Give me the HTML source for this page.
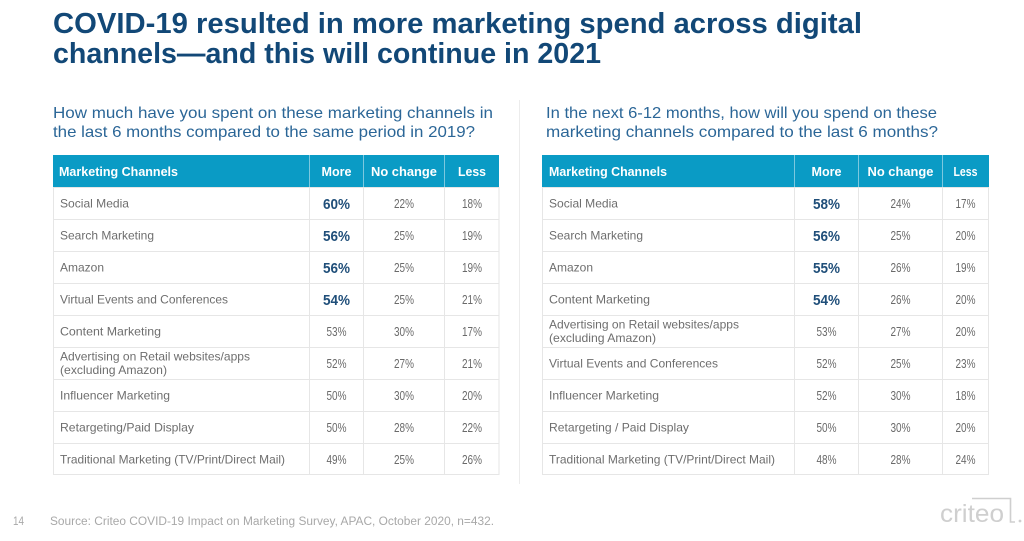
<!DOCTYPE html>
<html><head><meta charset="utf-8"><style>
html,body{margin:0;padding:0;background:#fff;}
svg{display:block;}
text{font-family:"Liberation Sans",sans-serif;}
.t{fill:#124877;font-weight:bold;font-size:29px;}
.s{fill:#2b6697;font-size:16px;}
.h{fill:#fff;font-weight:bold;font-size:13px;}
.l{fill:#6e6e6e;font-size:12px;}
.n{fill:#6a6a6a;font-size:12.5px;text-anchor:middle;}
.b{fill:#1f4e79;font-weight:bold;font-size:14.5px;text-anchor:middle;}
.hc{text-anchor:middle;}
.f{fill:#a8a8a8;font-size:11.5px;}
</style></head><body>
<svg width="1024" height="541" viewBox="0 0 1024 541" xmlns="http://www.w3.org/2000/svg">
<rect width="1024" height="541" fill="#fff"/>
<!-- Title -->
<text class="t" x="53" y="33" textLength="809" lengthAdjust="spacingAndGlyphs">COVID-19 resulted in more marketing spend across digital</text>
<text class="t" x="53" y="63" textLength="548" lengthAdjust="spacingAndGlyphs">channels—and this will continue in 2021</text>

<!-- Subtitles -->
<text class="s" x="53" y="118" textLength="440" lengthAdjust="spacingAndGlyphs">How much have you spent on these marketing channels in</text>
<text class="s" x="53" y="137" textLength="422" lengthAdjust="spacingAndGlyphs">the last 6 months compared to the same period in 2019?</text>
<text class="s" x="546" y="118" textLength="391" lengthAdjust="spacingAndGlyphs">In the next 6-12 months, how will you spend on these</text>
<text class="s" x="546" y="137" textLength="392" lengthAdjust="spacingAndGlyphs">marketing channels compared to the last 6 months?</text>

<!-- divider -->
<line x1="519.5" y1="100" x2="519.5" y2="484" stroke="#ececec" stroke-width="1"/>

<!-- LEFT TABLE -->
<g>
<rect x="53" y="155" width="446" height="32" fill="#0a9bc5"/>
<g stroke="#e6e6e6" stroke-width="1" fill="none">
<rect x="53.5" y="187.5" width="445.5" height="287"/>
<line x1="53" y1="219.5" x2="499" y2="219.5"/>
<line x1="53" y1="251.5" x2="499" y2="251.5"/>
<line x1="53" y1="283.5" x2="499" y2="283.5"/>
<line x1="53" y1="315.5" x2="499" y2="315.5"/>
<line x1="53" y1="347.5" x2="499" y2="347.5"/>
<line x1="53" y1="379.5" x2="499" y2="379.5"/>
<line x1="53" y1="411.5" x2="499" y2="411.5"/>
<line x1="53" y1="443.5" x2="499" y2="443.5"/>
<line x1="309.5" y1="187" x2="309.5" y2="475"/>
<line x1="363.5" y1="187" x2="363.5" y2="475"/>
<line x1="444.5" y1="187" x2="444.5" y2="475"/>
</g>
<g stroke="#7cc8df" stroke-width="1">
<line x1="309.5" y1="155" x2="309.5" y2="187"/>
<line x1="363.5" y1="155" x2="363.5" y2="187"/>
<line x1="444.5" y1="155" x2="444.5" y2="187"/>
</g>
<text class="h" x="59" y="176" textLength="119" lengthAdjust="spacingAndGlyphs">Marketing Channels</text>
<text class="h hc" x="336.5" y="176" textLength="30" lengthAdjust="spacingAndGlyphs">More</text>
<text class="h hc" x="404" y="176" textLength="66" lengthAdjust="spacingAndGlyphs">No change</text>
<text class="h hc" x="472" y="176" textLength="28" lengthAdjust="spacingAndGlyphs">Less</text>

<text class="l" x="60" y="207.5" textLength="69" lengthAdjust="spacingAndGlyphs">Social Media</text>
<text class="b" x="336.5" y="209" textLength="27" lengthAdjust="spacingAndGlyphs">60%</text>
<text class="n" x="404" y="208" textLength="20" lengthAdjust="spacingAndGlyphs">22%</text>
<text class="n" x="472" y="208" textLength="20" lengthAdjust="spacingAndGlyphs">18%</text>

<text class="l" x="60" y="239.5" textLength="94" lengthAdjust="spacingAndGlyphs">Search Marketing</text>
<text class="b" x="336.5" y="241" textLength="27" lengthAdjust="spacingAndGlyphs">56%</text>
<text class="n" x="404" y="240" textLength="20" lengthAdjust="spacingAndGlyphs">25%</text>
<text class="n" x="472" y="240" textLength="20" lengthAdjust="spacingAndGlyphs">19%</text>

<text class="l" x="60" y="271.5" textLength="44" lengthAdjust="spacingAndGlyphs">Amazon</text>
<text class="b" x="336.5" y="273" textLength="27" lengthAdjust="spacingAndGlyphs">56%</text>
<text class="n" x="404" y="272" textLength="20" lengthAdjust="spacingAndGlyphs">25%</text>
<text class="n" x="472" y="272" textLength="20" lengthAdjust="spacingAndGlyphs">19%</text>

<text class="l" x="60" y="303.5" textLength="168" lengthAdjust="spacingAndGlyphs">Virtual Events and Conferences</text>
<text class="b" x="336.5" y="305" textLength="27" lengthAdjust="spacingAndGlyphs">54%</text>
<text class="n" x="404" y="304" textLength="20" lengthAdjust="spacingAndGlyphs">25%</text>
<text class="n" x="472" y="304" textLength="20" lengthAdjust="spacingAndGlyphs">21%</text>

<text class="l" x="60" y="335.5" textLength="101" lengthAdjust="spacingAndGlyphs">Content Marketing</text>
<text class="n" x="336.5" y="336" textLength="20" lengthAdjust="spacingAndGlyphs">53%</text>
<text class="n" x="404" y="336" textLength="20" lengthAdjust="spacingAndGlyphs">30%</text>
<text class="n" x="472" y="336" textLength="20" lengthAdjust="spacingAndGlyphs">17%</text>

<text class="l" x="60" y="360.5" textLength="190" lengthAdjust="spacingAndGlyphs">Advertising on Retail websites/apps</text>
<text class="l" x="60" y="374" textLength="107" lengthAdjust="spacingAndGlyphs">(excluding Amazon)</text>
<text class="n" x="336.5" y="368" textLength="20" lengthAdjust="spacingAndGlyphs">52%</text>
<text class="n" x="404" y="368" textLength="20" lengthAdjust="spacingAndGlyphs">27%</text>
<text class="n" x="472" y="368" textLength="20" lengthAdjust="spacingAndGlyphs">21%</text>

<text class="l" x="60" y="399.5" textLength="110" lengthAdjust="spacingAndGlyphs">Influencer Marketing</text>
<text class="n" x="336.5" y="400" textLength="20" lengthAdjust="spacingAndGlyphs">50%</text>
<text class="n" x="404" y="400" textLength="20" lengthAdjust="spacingAndGlyphs">30%</text>
<text class="n" x="472" y="400" textLength="20" lengthAdjust="spacingAndGlyphs">20%</text>

<text class="l" x="60" y="431.5" textLength="134" lengthAdjust="spacingAndGlyphs">Retargeting/Paid Display</text>
<text class="n" x="336.5" y="432" textLength="20" lengthAdjust="spacingAndGlyphs">50%</text>
<text class="n" x="404" y="432" textLength="20" lengthAdjust="spacingAndGlyphs">28%</text>
<text class="n" x="472" y="432" textLength="20" lengthAdjust="spacingAndGlyphs">22%</text>

<text class="l" x="60" y="463.5" textLength="225" lengthAdjust="spacingAndGlyphs">Traditional Marketing (TV/Print/Direct Mail)</text>
<text class="n" x="336.5" y="464" textLength="20" lengthAdjust="spacingAndGlyphs">49%</text>
<text class="n" x="404" y="464" textLength="20" lengthAdjust="spacingAndGlyphs">25%</text>
<text class="n" x="472" y="464" textLength="20" lengthAdjust="spacingAndGlyphs">26%</text>
</g>

<!-- RIGHT TABLE -->
<g>
<rect x="542" y="155" width="447" height="32" fill="#0a9bc5"/>
<g stroke="#e6e6e6" stroke-width="1" fill="none">
<rect x="542.5" y="187.5" width="446" height="287"/>
<line x1="542" y1="219.5" x2="989" y2="219.5"/>
<line x1="542" y1="251.5" x2="989" y2="251.5"/>
<line x1="542" y1="283.5" x2="989" y2="283.5"/>
<line x1="542" y1="315.5" x2="989" y2="315.5"/>
<line x1="542" y1="347.5" x2="989" y2="347.5"/>
<line x1="542" y1="379.5" x2="989" y2="379.5"/>
<line x1="542" y1="411.5" x2="989" y2="411.5"/>
<line x1="542" y1="443.5" x2="989" y2="443.5"/>
<line x1="794.5" y1="187" x2="794.5" y2="475"/>
<line x1="858.5" y1="187" x2="858.5" y2="475"/>
<line x1="942.5" y1="187" x2="942.5" y2="475"/>
</g>
<g stroke="#7cc8df" stroke-width="1">
<line x1="794.5" y1="155" x2="794.5" y2="187"/>
<line x1="858.5" y1="155" x2="858.5" y2="187"/>
<line x1="942.5" y1="155" x2="942.5" y2="187"/>
</g>
<text class="h" x="549" y="176" textLength="118" lengthAdjust="spacingAndGlyphs">Marketing Channels</text>
<text class="h hc" x="826.5" y="176" textLength="30" lengthAdjust="spacingAndGlyphs">More</text>
<text class="h hc" x="900.5" y="176" textLength="66" lengthAdjust="spacingAndGlyphs">No change</text>
<text class="h hc" x="965.5" y="176" textLength="24" lengthAdjust="spacingAndGlyphs">Less</text>

<text class="l" x="549" y="207.5" textLength="69" lengthAdjust="spacingAndGlyphs">Social Media</text>
<text class="b" x="826.5" y="209" textLength="27" lengthAdjust="spacingAndGlyphs">58%</text>
<text class="n" x="900.5" y="208" textLength="20" lengthAdjust="spacingAndGlyphs">24%</text>
<text class="n" x="965.5" y="208" textLength="20" lengthAdjust="spacingAndGlyphs">17%</text>

<text class="l" x="549" y="239.5" textLength="94" lengthAdjust="spacingAndGlyphs">Search Marketing</text>
<text class="b" x="826.5" y="241" textLength="27" lengthAdjust="spacingAndGlyphs">56%</text>
<text class="n" x="900.5" y="240" textLength="20" lengthAdjust="spacingAndGlyphs">25%</text>
<text class="n" x="965.5" y="240" textLength="20" lengthAdjust="spacingAndGlyphs">20%</text>

<text class="l" x="549" y="271.5" textLength="44" lengthAdjust="spacingAndGlyphs">Amazon</text>
<text class="b" x="826.5" y="273" textLength="27" lengthAdjust="spacingAndGlyphs">55%</text>
<text class="n" x="900.5" y="272" textLength="20" lengthAdjust="spacingAndGlyphs">26%</text>
<text class="n" x="965.5" y="272" textLength="20" lengthAdjust="spacingAndGlyphs">19%</text>

<text class="l" x="549" y="303.5" textLength="101" lengthAdjust="spacingAndGlyphs">Content Marketing</text>
<text class="b" x="826.5" y="305" textLength="27" lengthAdjust="spacingAndGlyphs">54%</text>
<text class="n" x="900.5" y="304" textLength="20" lengthAdjust="spacingAndGlyphs">26%</text>
<text class="n" x="965.5" y="304" textLength="20" lengthAdjust="spacingAndGlyphs">20%</text>

<text class="l" x="549" y="328.5" textLength="190" lengthAdjust="spacingAndGlyphs">Advertising on Retail websites/apps</text>
<text class="l" x="549" y="342" textLength="107" lengthAdjust="spacingAndGlyphs">(excluding Amazon)</text>
<text class="n" x="826.5" y="336" textLength="20" lengthAdjust="spacingAndGlyphs">53%</text>
<text class="n" x="900.5" y="336" textLength="20" lengthAdjust="spacingAndGlyphs">27%</text>
<text class="n" x="965.5" y="336" textLength="20" lengthAdjust="spacingAndGlyphs">20%</text>

<text class="l" x="549" y="367.5" textLength="169" lengthAdjust="spacingAndGlyphs">Virtual Events and Conferences</text>
<text class="n" x="826.5" y="368" textLength="20" lengthAdjust="spacingAndGlyphs">52%</text>
<text class="n" x="900.5" y="368" textLength="20" lengthAdjust="spacingAndGlyphs">25%</text>
<text class="n" x="965.5" y="368" textLength="20" lengthAdjust="spacingAndGlyphs">23%</text>

<text class="l" x="549" y="399.5" textLength="110" lengthAdjust="spacingAndGlyphs">Influencer Marketing</text>
<text class="n" x="826.5" y="400" textLength="20" lengthAdjust="spacingAndGlyphs">52%</text>
<text class="n" x="900.5" y="400" textLength="20" lengthAdjust="spacingAndGlyphs">30%</text>
<text class="n" x="965.5" y="400" textLength="20" lengthAdjust="spacingAndGlyphs">18%</text>

<text class="l" x="549" y="431.5" textLength="140" lengthAdjust="spacingAndGlyphs">Retargeting / Paid Display</text>
<text class="n" x="826.5" y="432" textLength="20" lengthAdjust="spacingAndGlyphs">50%</text>
<text class="n" x="900.5" y="432" textLength="20" lengthAdjust="spacingAndGlyphs">30%</text>
<text class="n" x="965.5" y="432" textLength="20" lengthAdjust="spacingAndGlyphs">20%</text>

<text class="l" x="549" y="463.5" textLength="226" lengthAdjust="spacingAndGlyphs">Traditional Marketing (TV/Print/Direct Mail)</text>
<text class="n" x="826.5" y="464" textLength="20" lengthAdjust="spacingAndGlyphs">48%</text>
<text class="n" x="900.5" y="464" textLength="20" lengthAdjust="spacingAndGlyphs">28%</text>
<text class="n" x="965.5" y="464" textLength="20" lengthAdjust="spacingAndGlyphs">24%</text>
</g>

<!-- Footer -->
<text class="f" x="13" y="525" textLength="11" lengthAdjust="spacingAndGlyphs">14</text>
<text class="f" x="50" y="525" textLength="444" lengthAdjust="spacingAndGlyphs">Source: Criteo COVID-19 Impact on Marketing Survey, APAC, October 2020, n=432.</text>

<!-- criteo logo -->
<text x="940" y="522" fill="#cfcfcf" font-size="25" textLength="64" lengthAdjust="spacingAndGlyphs">criteo</text>
<path d="M972 498.5 H1010.5 V522 H1015" fill="none" stroke="#cfcfcf" stroke-width="1.6"/>
<circle cx="1020" cy="521" r="1.4" fill="#cfcfcf"/>
</svg>
</body></html>
